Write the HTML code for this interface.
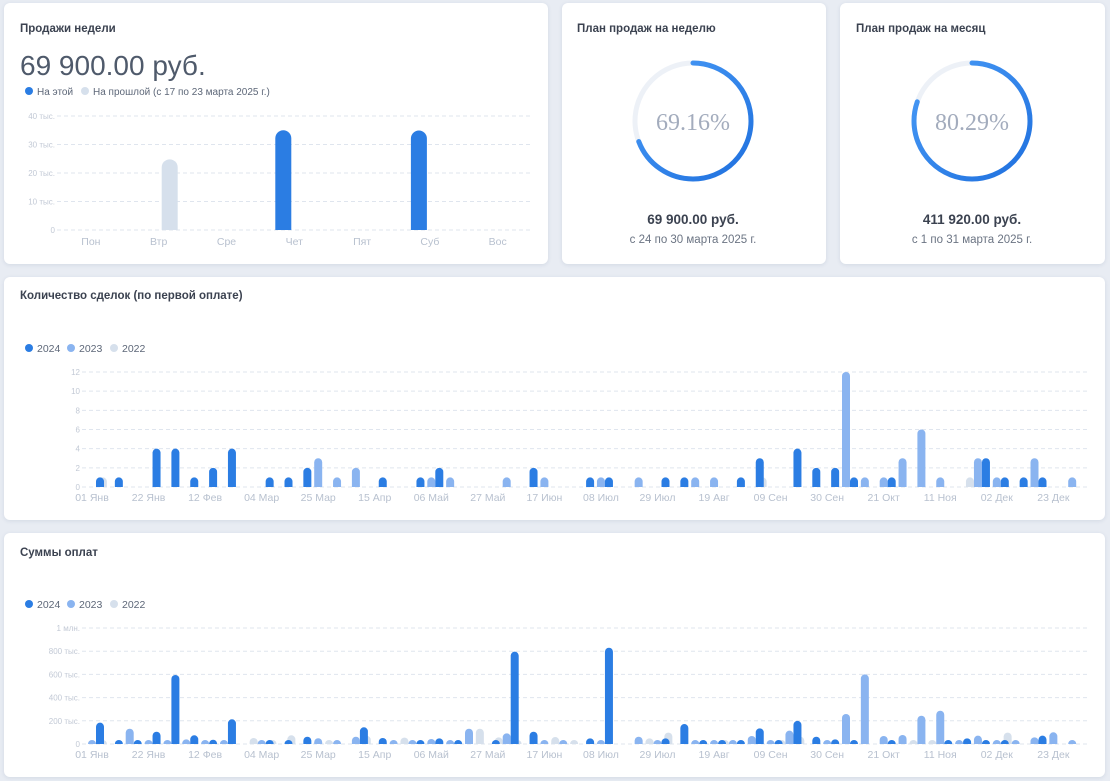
<!DOCTYPE html>
<html><head><meta charset="utf-8">
<style>
body{margin:0;width:1110px;height:781px;background:#e8ecf3;font-family:"Liberation Sans","DejaVu Sans",sans-serif;position:relative;overflow:hidden}
.card{position:absolute;background:#fff;border-radius:6px;box-shadow:0 1px 4px rgba(60,80,120,.12)}
.t{position:absolute;font-size:11.5px;font-weight:bold;color:#3b4250}
svg{position:absolute;left:0;top:0}
.ax{font-size:8px;fill:#c2c9d5}
.xl{font-size:10.5px;fill:#b8c1cf}
</style></head><body>
<div class="card" style="left:4px;top:3px;width:544px;height:261px"></div>
<div class="card" style="left:562px;top:3px;width:264px;height:261px"></div>
<div class="card" style="left:840px;top:3px;width:265px;height:261px"></div>
<div class="card" style="left:4px;top:277px;width:1101px;height:243px"></div>
<div class="card" style="left:4px;top:533px;width:1101px;height:244px"></div>
<div class="t" style="left:20px;top:23px">Продажи недели</div>
<div style="position:absolute;left:20px;top:50px;font-size:28px;color:#4f5a6b">69 900.00 руб.</div>
<div class="t" style="left:577px;top:23px">План продаж на неделю</div>
<div class="t" style="left:856px;top:23px">План продаж на месяц</div>
<div class="t" style="left:20px;top:290px">Количество сделок (по первой оплате)</div>
<div class="t" style="left:20px;top:547px">Суммы оплат</div>
<svg id="s" width="1110" height="781">
<defs>
<linearGradient id="g1" x1="1" y1="0" x2="0" y2="1"><stop offset="0" stop-color="#4a9cf7"/><stop offset="1" stop-color="#1f70de"/></linearGradient>
</defs>
</svg>
<script>
const days=["Пон","Втр","Сре","Чет","Пят","Суб","Вос"];
const thisWeek=[0,0,0,35000,0,34900,0];
const prevWeek=[0,24800,0,0,0,0,0];
const weekTicks=[0,10,20,30,40];
const weekLabels=["01 Янв","22 Янв","12 Фев","04 Мар","25 Мар","15 Апр","06 Май","27 Май","17 Июн","08 Июл","29 Июл","19 Авг","09 Сен","30 Сен","21 Окт","11 Ноя","02 Дек","23 Дек"];
const count2024=[1,1,0,4,4,1,2,4,0,1,1,2,0,0,0,1,0,1,2,0,0,0,0,2,0,0,1,1,0,0,1,1,0,0,1,3,0,4,2,2,1,0,1,0,0,0,0,3,1,1,1,0,0];
const count2023=[0,0,0,0,0,0,0,0,0,0,0,0,3,1,2,0,0,0,1,1,0,0,1,0,1,0,0,1,0,1,0,0,1,1,0,0,0,0,0,0,12,1,1,3,6,1,0,3,1,0,3,0,1];
const count2022=[0,1,0,0,0,0,0,0,0,0,0,0,0,0,0,0,0,0,0,0,0,0,0,0,0,0,0,0,0,0,0,0,0,0,0,0,1,0,0,0,0,0,0,0,0,0,0,1,0,0,0,0,0];
const sum2024=[184,10,5,106,595,75,37,213,0,30,26,63,0,0,144,52,0,10,49,8,0,10,796,106,0,0,49,830,0,0,49,172,10,15,5,135,20,199,63,40,20,0,35,0,0,10,49,35,17,0,72,0,0];
const sum2023=[30,0,132,30,30,40,5,23,0,12,0,0,50,5,63,0,26,26,43,10,132,0,92,0,15,5,0,5,0,63,5,0,10,23,17,69,10,115,0,5,259,600,69,78,244,287,26,72,20,5,57,101,17];
const sum2022=[0,15,0,0,0,0,0,0,0,52,20,75,0,20,0,70,0,55,0,0,0,132,57,15,0,60,10,0,0,0,49,98,0,0,35,0,0,15,63,0,0,0,0,0,15,10,0,0,0,98,0,0,0];
const countTicks=[0,2,4,6,8,10,12];
const sumTicks=[0,200,400,600,800,1000];
const sumTickLabels=["0","200 тыс.","400 тыс.","600 тыс.","800 тыс.","1 млн."];
const plans=[69.16,80.29];

const S=document.getElementById('s');const NS='http://www.w3.org/2000/svg';
function mk(t,a,txt){const e=document.createElementNS(NS,t);for(const k in a)e.setAttribute(k,a[k]);if(txt!==undefined)e.textContent=txt;S.appendChild(e);return e;}
function bar(x,w,y0,y1,col){const h=y0-y1;if(h<=0)return null;const r=Math.min(w/2,h);
 return mk('path',{d:`M${x} ${y0}V${y1+r}A${r} ${r} 0 0 1 ${x+w} ${y1+r}V${y0}Z`,fill:col});}
function legend(y,items,fs){items.forEach(it=>{const c=mk('circle',{cx:it[0],cy:y,r:4,fill:it[2]});
 
 const t=mk('text',{x:it[0]+8,y:y+4,'font-size':fs,fill:'#5d6778'},it[1]);
 });}

// Weekly chart
legend(91,[[29,'На этой','#2b7de3'],[85,'На прошлой (с 17 по 23 марта 2025 г.)','#d6e0ec']],10);
const wy=v=>230-v/40*114, bw=67.8, x0=57;
weekTicks.forEach(t=>{mk('line',{x1:x0,x2:532,y1:wy(t),y2:wy(t),stroke:'#dfe5ee','stroke-dasharray':'4 3'});
 const l=mk('text',{x:55,y:wy(t)+3,'text-anchor':'end',class:'ax'},t?t+' тыс.':'0');});
days.forEach((d,i)=>{const c=x0+bw*(i+.5);
 const l=mk('text',{x:c,y:245,'text-anchor':'middle',class:'xl'},d);
 const b1=bar(c+11-8,16,230,wy(prevWeek[i]/1000),'#d6e0ec');if(b1){}
 const b2=bar(c-11-8,16,230,wy(thisWeek[i]/1000),'#2b7de3');if(b2){}
});

// Donuts
[[693,'69 900.00 руб.','с 24 по 30 марта 2025 г.'],[972,'411 920.00 руб.','с 1 по 31 марта 2025 г.']].forEach((p,i)=>{
 const cx=p[0],cy=121,r=58,C=2*Math.PI*r;
 const bg=mk('circle',{cx,cy,r,fill:'none',stroke:'#edf1f7','stroke-width':5});
 const a=mk('circle',{cx,cy,r,fill:'none',stroke:'url(#g1)','stroke-width':5,'stroke-linecap':'round','stroke-dasharray':`${C*plans[i]/100} ${C}`,transform:`rotate(-90 ${cx} ${cy})`});
 
 const t=mk('text',{x:cx,y:cy+9,'text-anchor':'middle','font-size':24,fill:'#a3acbd','font-family':'Liberation Serif, serif'},plans[i].toFixed(2)+'%');
 
 const v=mk('text',{x:cx,y:224,'text-anchor':'middle','font-size':13.5,'font-weight':'bold',fill:'#3b4250'},p[1]);
 
 const d=mk('text',{x:cx,y:243,'text-anchor':'middle','font-size':11.5,fill:'#6b7483'},p[2]);
 
});

function weekly(y0,y1,max,ticks,tl,series,labY){
 const ys=v=>y0-v/max*(y0-y1), xc=i=>92+18.85*i;
 ticks.forEach((t,k)=>{mk('line',{x1:82,x2:1087,y1:ys(t),y2:ys(t),stroke:'#dfe5ee','stroke-dasharray':'4 3'});
  const l=mk('text',{x:80,y:ys(t)+3,'text-anchor':'end',class:'ax'},tl[k]);});
 weekLabels.forEach((w,k)=>{const l=mk('text',{x:xc(k*3),y:labY,'text-anchor':'middle',class:'xl'},w);});
 series.forEach(s=>{s[0].forEach((v,i)=>{const b=bar(xc(i)+s[1]-4,8,y0,ys(v),s[2]);if(b){}});});
}
legend(348,[[29,'2024','#2b7de3'],[71,'2023','#8ab4f0'],[114,'2022','#d6e0ec']],10.5);
weekly(487,372,12,countTicks,countTicks.map(String),[[count2022,-8,'#d6e0ec','2022'],[count2023,0,'#8ab4f0','2023'],[count2024,8,'#2b7de3','2024']],501);
legend(604,[[29,'2024','#2b7de3'],[71,'2023','#8ab4f0'],[114,'2022','#d6e0ec']],10.5);
weekly(744,628,1000,sumTicks,sumTickLabels,[[sum2022,-8,'#d6e0ec','2022'],[sum2023,0,'#8ab4f0','2023'],[sum2024,8,'#2b7de3','2024']],758);
</script>
</body></html>
